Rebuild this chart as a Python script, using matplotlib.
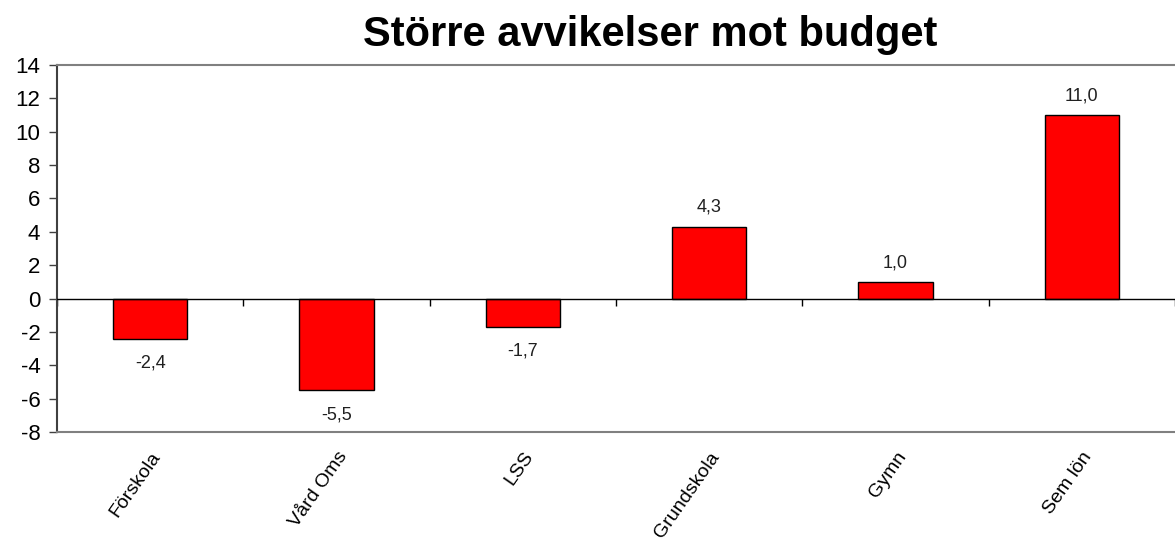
import matplotlib.pyplot as plt
import numpy as np

plt.rcParams['font.family'] = ['Liberation Sans', 'DejaVu Sans']
plt.rcParams['axes.unicode_minus'] = False

# data
categories = ['Förskola', 'Vård Oms', 'LSS', 'Grundskola', 'Gymn', 'Sem lön']
values = [-2.4, -5.5, -1.7, 4.3, 1.0, 11.0]
yticks = [-8, -6, -4, -2, 0, 2, 4, 6, 8, 10, 12, 14]

fig = plt.figure(figsize=(11.75, 5.51), dpi=100)
ax = fig.add_axes([0.0485, 0.216, 0.9515, 0.666])

x = np.arange(len(categories))
ax.bar(x, values, width=0.4, color='#ff0000', edgecolor='black', linewidth=1, zorder=3)

ax.set_xlim(-0.5, len(categories) - 0.5)
ax.set_ylim(-8, 14)
ax.set_yticks(yticks)
ax.tick_params(axis='y', labelsize=16, length=6, width=1, color='#404040', pad=6)

# axis frame
for s in ['top', 'bottom', 'right']:
    ax.spines[s].set_color('#808080')
    ax.spines[s].set_linewidth(1.5)
ax.spines['right'].set_visible(False)
ax.spines['left'].set_color('#404040')
ax.spines['left'].set_linewidth(1.5)

# zero line with category separator ticks
ax.axhline(0, color='black', linewidth=1, zorder=4)
sec = ax.secondary_xaxis(8 / 22)
sec.spines['bottom'].set_visible(False)
sec.set_xticks(np.arange(len(categories) + 1) - 0.5)
sec.set_xticklabels([])
sec.tick_params(length=5, width=1, color='black')

# category labels
ax.set_xticks(x)
ax.set_xticklabels(categories, rotation=55, ha='right', rotation_mode='anchor', fontsize=14)
ax.tick_params(axis='x', length=0, pad=12)

# value labels
for xi, v in zip(x, values):
    lab = f'{v:.1f}'.replace('.', ',')
    if v >= 0:
        ax.text(xi, v + 0.65, lab, ha='center', va='bottom', fontsize=13, color='#202020')
    else:
        ax.text(xi, v - 0.95, lab, ha='center', va='top', fontsize=13, color='#202020')

fig.suptitle('Större avvikelser mot budget', x=0.553, y=0.972, fontsize=30, fontweight='bold')

fig.savefig('out.png', dpi=100)
